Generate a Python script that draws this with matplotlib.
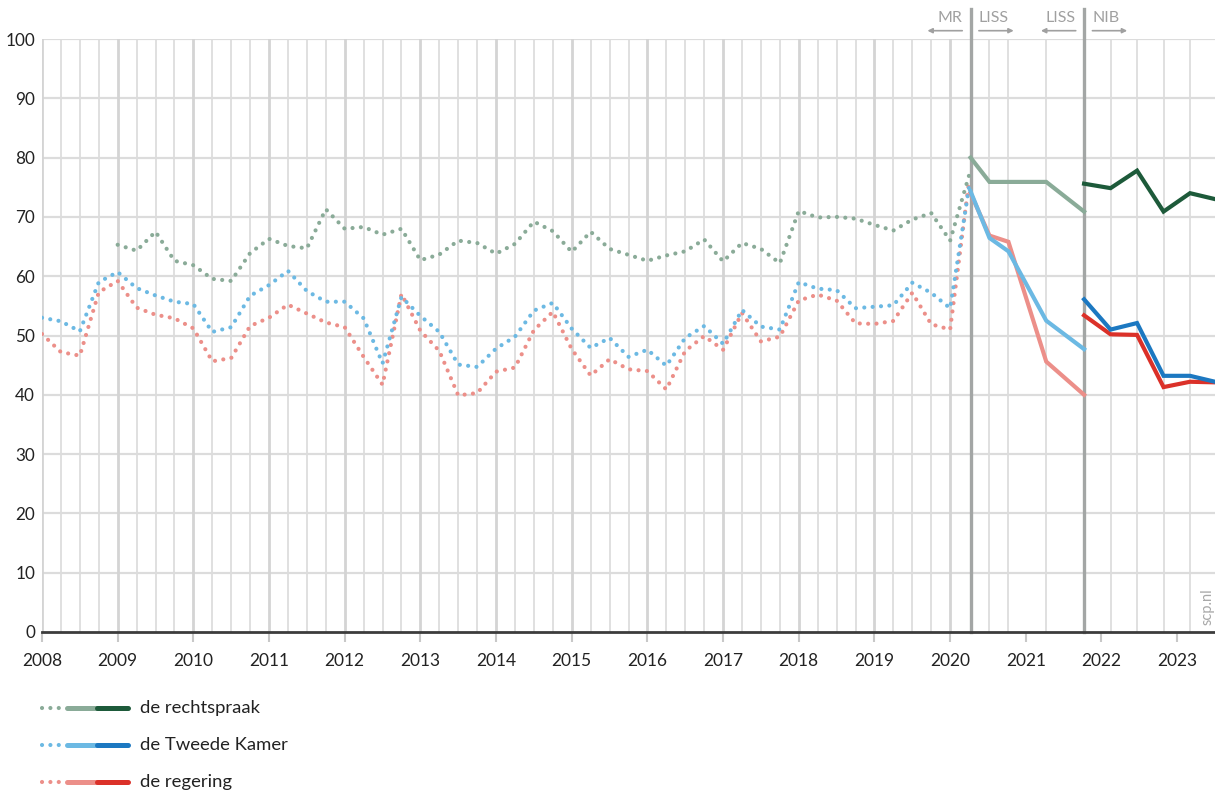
import matplotlib
matplotlib.use('Agg')
import matplotlib.pyplot as plt
from matplotlib.lines import Line2D
import matplotlib.transforms as mtransforms

plt.rcParams['font.family'] = ['Lato', 'DejaVu Sans']

# quarterly survey (MR), dotted
quarters_all = [2008 + q / 4 for q in range(50)]          # 2008.0 .. 2020.25
quarters_rs = quarters_all[4:]                             # from 2009.0

rechtspraak_mr = [
    65.3, 64.3, 67.5, 62.6,
    61.85, 59.55, 59.2, 63.9,
    66.3, 65.1, 64.7, 71.3,
    68.0, 68.3, 67.0, 68.0,
    62.7, 63.65, 66.0, 65.6,
    63.8, 65.45, 69.2, 67.6,
    64.1, 67.5, 64.6, 63.6,
    62.6, 63.5, 64.2, 66.2,
    62.5, 65.6, 64.6, 62.2,
    71.0, 69.9, 70.0, 69.7,
    68.65, 67.7, 69.55, 70.65,
    66.0, 77.0,
]
kamer_mr = [
    53.0, 52.4, 50.7, 59.0,
    60.7, 58.0, 56.75, 55.7,
    55.3, 50.6, 51.4, 56.7,
    58.5, 60.9, 57.5, 55.7,
    55.7, 52.9, 45.3, 56.5,
    53.3, 50.6, 45.1, 44.7,
    47.8, 49.8, 54.2, 55.5,
    51.15, 47.9, 49.6, 46.4,
    47.6, 44.9, 49.6, 51.6,
    48.6, 54.3, 51.5, 51.0,
    59.0, 57.9, 57.65, 54.6,
    54.85, 55.1, 58.9, 57.2,
    54.6, 75.0,
]
regering_mr = [
    50.25, 47.2, 46.6, 57.3,
    59.2, 54.7, 53.5, 52.9,
    51.2, 45.65, 46.2, 51.6,
    53.0, 55.2, 53.7, 52.2,
    51.4, 46.4, 41.7, 57.0,
    50.8, 47.4, 39.9, 40.3,
    43.9, 44.6, 50.9, 54.0,
    47.7, 43.25, 46.0, 44.3,
    44.0, 40.9, 47.4, 49.9,
    47.6, 53.8, 49.0, 49.8,
    55.9, 56.9, 55.9, 52.05,
    51.95, 52.45, 57.2, 51.9,
    51.0, 76.0,
]

# LISS, light solid
liss_x = [2020.27, 2020.52, 2020.77, 2021.27, 2021.77]
rechtspraak_liss = [80.0, 75.9, 75.9, 75.9, 70.9]
kamer_liss = [74.3, 66.45, 64.2, 52.5, 47.7]
regering_liss = [74.0, 66.85, 65.8, 45.6, 40.0]

# NIB, dark solid
nib_x = [2021.77, 2022.12, 2022.47, 2022.82, 2023.17, 2023.5]
rechtspraak_nib = [75.6, 74.85, 77.8, 70.9, 74.0, 73.0]
kamer_nib = [56.1, 51.0, 52.1, 43.2, 43.2, 42.2]
regering_nib = [53.4, 50.2, 50.1, 41.3, 42.2, 42.1]

labels = ['de rechtspraak', 'de Tweede Kamer', 'de regering']
light_colors = ['#8aab98', '#6cb9e3', '#ec8f89']
dark_colors = ['#1d5a3a', '#1c78c1', '#db3129']

years = list(range(2008, 2024))
breaks = [liss_x[0], nib_x[0]]

fig = plt.figure(figsize=(12.15, 7.94), dpi=100)
ax = fig.add_axes([42 / 1215, 1 - 632 / 794, 1 - 42 / 1215, 593 / 794])

# grid
for y in range(10, 101, 10):
    ax.axhline(y, color='#dcdcdc', lw=1.6, zorder=0)
for x in quarters_all[:-1]:
    is_year = abs(x - round(x)) < 1e-6
    ax.axvline(x, color='#d4d4d4' if is_year else '#dddddd',
               lw=2.0 if is_year else 1.3, zorder=0)
for x in liss_x[1:-1] + nib_x[1:-1]:
    ax.axvline(x, color='#dddddd', lw=1.3, zorder=0)
for x in breaks:
    ax.axvline(x, ymin=0, ymax=1.05, color='#a3a6a5', lw=2.4, zorder=1,
               clip_on=False)

dot_style = dict(linestyle=(0, (0.01, 2.0)), dash_capstyle='round', lw=3.0)
mr_series = [(quarters_rs, rechtspraak_mr), (quarters_all, kamer_mr),
             (quarters_all, regering_mr)]
liss_series = [rechtspraak_liss, kamer_liss, regering_liss]
nib_series = [rechtspraak_nib, kamer_nib, regering_nib]

for i in [2, 1, 0]:
    xs, ys = mr_series[i]
    ax.plot(xs, ys, color=light_colors[i], zorder=3, **dot_style)
for i in [2, 1, 0]:
    ax.plot(liss_x, liss_series[i], color=light_colors[i], lw=3.0, zorder=4,
            solid_joinstyle='miter')
for i in [2, 1, 0]:
    ax.plot(nib_x, nib_series[i], color=dark_colors[i], lw=3.0, zorder=5,
            solid_joinstyle='miter')

ax.set_xlim(2008, 2023.5)
ax.set_ylim(0, 100)
for side in ['top', 'right', 'left']:
    ax.spines[side].set_visible(False)
ax.spines['bottom'].set_color('#3c3c3c')
ax.spines['bottom'].set_linewidth(2)
ax.spines['bottom'].set_zorder(6)

ax.set_yticks(range(0, 101, 10))
ax.set_xticks(years)
ax.set_xticklabels([str(y) for y in years])
ax.tick_params(axis='y', length=0, pad=5, labelsize=12.3, labelcolor='#222222')
ax.tick_params(axis='x', length=7, width=1.5, color='#c8c8c8', pad=8,
               labelsize=12.5, labelcolor='#222222')

# source labels above the breaks
trans = mtransforms.blended_transform_factory(ax.transData, ax.transAxes)
gray = '#a0a0a0'
for bx, left_txt, right_txt in [(breaks[0], 'MR', 'LISS'),
                                (breaks[1], 'LISS', 'NIB')]:
    ax.text(bx - 0.11, 1.036, left_txt, transform=trans, ha='right',
            va='center', color=gray, fontsize=11.5)
    ax.text(bx + 0.11, 1.036, right_txt, transform=trans, ha='left',
            va='center', color=gray, fontsize=11.5)
    ax.annotate('', xy=(bx - 0.57, 1.014), xytext=(bx - 0.11, 1.014),
                xycoords=trans, textcoords=trans,
                arrowprops=dict(arrowstyle='-|>', color=gray, lw=1.2,
                                mutation_scale=7, shrinkA=0, shrinkB=0))
    ax.annotate('', xy=(bx + 0.57, 1.014), xytext=(bx + 0.11, 1.014),
                xycoords=trans, textcoords=trans,
                arrowprops=dict(arrowstyle='-|>', color=gray, lw=1.2,
                                mutation_scale=7, shrinkA=0, shrinkB=0))

fig.text(1208 / 1215, 1 - 607 / 794, 'scp.nl', rotation=90, ha='center',
         va='center', color='#a8a8a8', fontsize=10.5)

# legend
for row, (label, lc, dc) in enumerate(zip(labels, light_colors, dark_colors)):
    yf = 1 - (708 + 37 * row) / 794
    fig.add_artist(Line2D([42 / 1215, 60 / 1215], [yf, yf], color=lc,
                          **dot_style))
    fig.add_artist(Line2D([67 / 1215, 96 / 1215], [yf, yf], color=lc,
                          lw=3.6, solid_capstyle='round'))
    fig.add_artist(Line2D([97 / 1215, 128 / 1215], [yf, yf], color=dc,
                          lw=3.6, solid_capstyle='round'))
    fig.text(140 / 1215, yf, label, ha='left', va='center', fontsize=13.3,
             color='#222222')

fig.savefig('out.png', dpi=100)
